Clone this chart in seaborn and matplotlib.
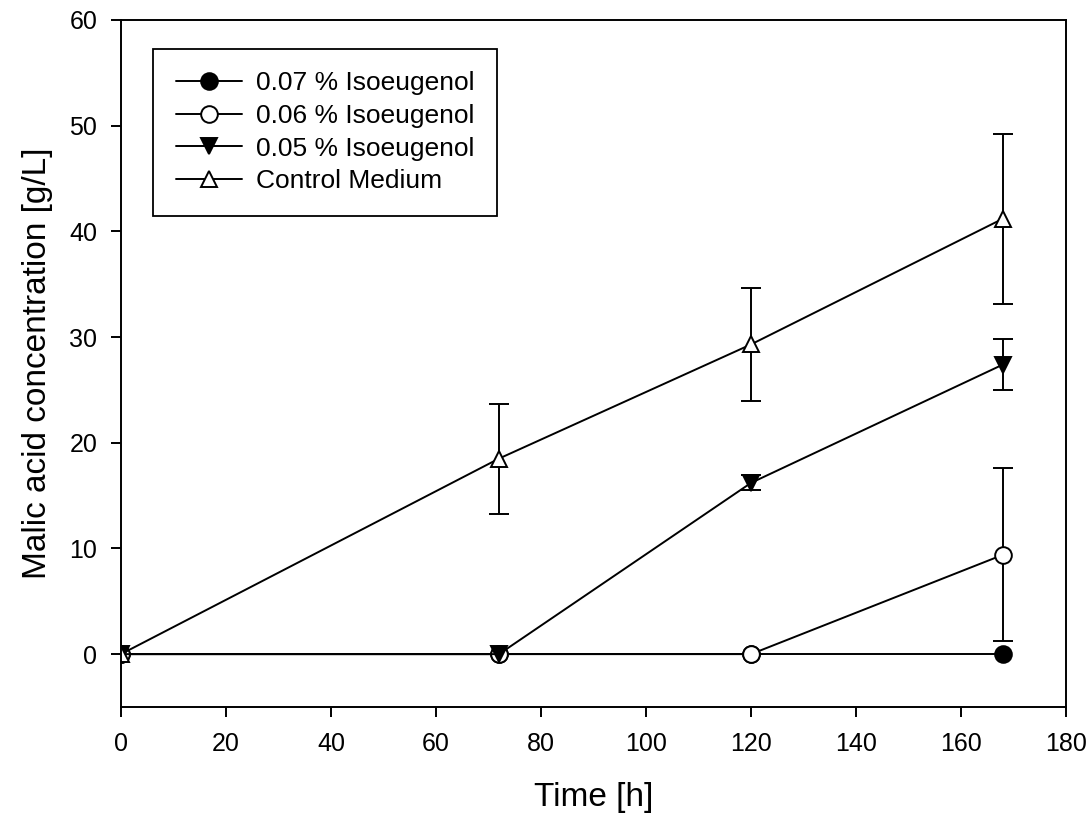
import seaborn as sns
import pandas as pd
import numpy as np
import matplotlib.pyplot as plt

# time points [h]
time = [0, 72, 120, 168]

# malic acid [g/L] and error bars
iso007 = [0, 0, 0, 0]
iso007_err = [0, 0, 0, 0]
iso006 = [0, 0, 0, 9.4]
iso006_err = [0, 0, 0, 8.2]
iso005 = [0, 0, 16.2, 27.4]
iso005_err = [0, 0, 0.7, 2.45]
control = [0, 18.5, 29.3, 41.2]
control_err = [0, 5.2, 5.35, 8.05]

labels = ['0.07 % Isoeugenol', '0.06 % Isoeugenol', '0.05 % Isoeugenol', 'Control Medium']

sns.set_style('ticks')
plt.rcParams['font.family'] = ['Liberation Sans', 'DejaVu Sans']
plt.rcParams['text.color'] = 'black'
plt.rcParams['axes.labelcolor'] = 'black'
plt.rcParams['xtick.color'] = 'black'
plt.rcParams['ytick.color'] = 'black'

fig = plt.figure(figsize=(10.9, 8.16), dpi=100)
ax = fig.add_axes([0.111, 0.1336, 0.867, 0.842])

series = [
    (iso007, iso007_err, 'o', 'black'),
    (iso006, iso006_err, 'o', 'white'),
    (iso005, iso005_err, 'v', 'black'),
    (control, control_err, '^', 'white'),
]

for (vals, errs, mk, fc), lab in zip(series, labels):
    df = pd.DataFrame({'Time': time, 'conc': vals})
    e = np.array(errs)
    mask = e > 0
    ax.errorbar(np.array(time)[mask], np.array(vals)[mask], yerr=e[mask], fmt='none',
                ecolor='black', elinewidth=1.4, capsize=7.5, capthick=1.4)
    sns.lineplot(data=df, x='Time', y='conc', ax=ax, color='black', linewidth=1.4,
                 marker=mk, markersize=12, markerfacecolor=fc, markeredgecolor='black',
                 markeredgewidth=1.4, label=lab)

ax.set_xlim(0, 180)
ax.set_ylim(-5, 60)
ax.set_xticks(range(0, 181, 20))
ax.set_yticks(range(0, 61, 10))
ax.tick_params(direction='out', length=7, width=1.4, labelsize=18)
ax.tick_params(axis='x', pad=11)
ax.tick_params(axis='y', pad=10)
for s in ax.spines.values():
    s.set_linewidth(1.4)
    s.set_color('black')
    s.set_visible(True)

ax.set_xlabel('Time [h]', fontsize=24, labelpad=19)
ax.set_ylabel('Malic acid concentration [g/L]', fontsize=24, labelpad=12)

leg = ax.legend(loc='upper left', bbox_to_anchor=(0.034, 0.958), borderaxespad=0,
                fontsize=19, frameon=True, fancybox=False, edgecolor='black',
                handlelength=2.5, handletextpad=0.55, labelspacing=0.33, borderpad=0.85)
leg.get_frame().set_linewidth(1.3)
leg.get_frame().set_alpha(1)

fig.savefig('out.png', dpi=100)
